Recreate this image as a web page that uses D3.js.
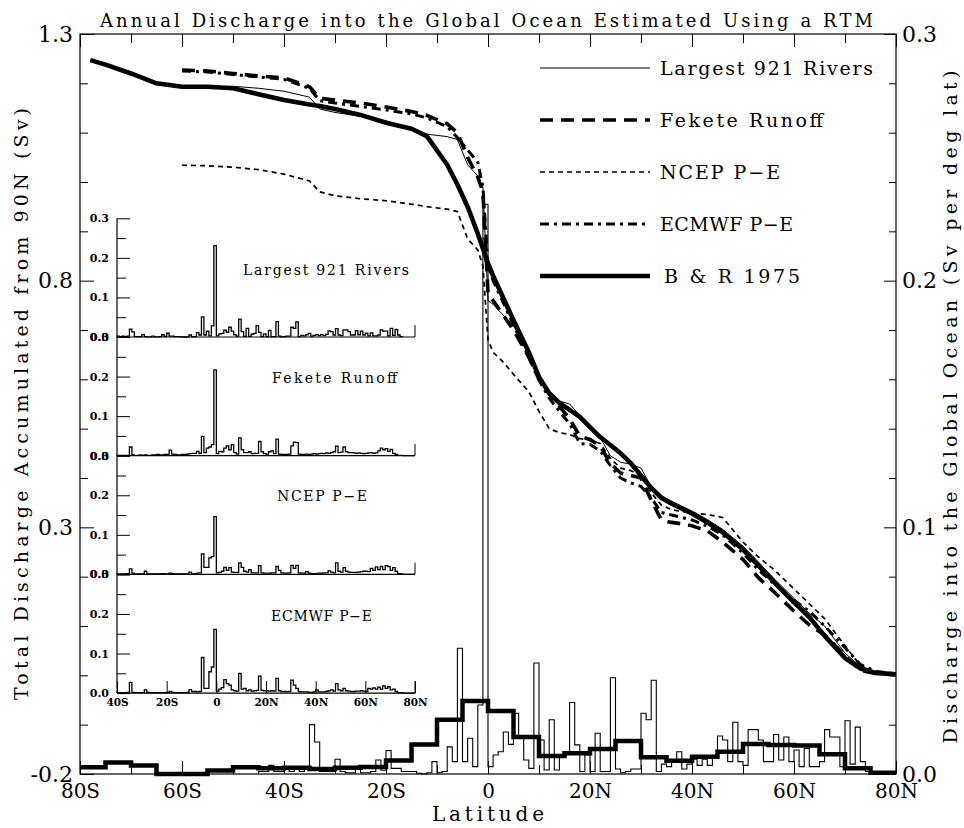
<!DOCTYPE html>
<html>
<head>
<meta charset="utf-8">
<script src="https://cdn.jsdelivr.net/npm/d3@7"></script>
<style>
  body { margin: 0; background: #fff; }
  svg { display: block; }
</style>
</head>
<body>
<svg id="chart" width="964" height="828"></svg>
<script>
// ---- accumulated discharge from 90N (Sv), left axis ----
const curveLats = [-78, -75, -70, -65, -60, -55, -50, -45, -40, -35, -33, -30, -25, -20, -15, -12,
  -8, -6, -4, -2, -1, 0, 1, 3, 5, 8, 10, 12, 14, 16, 18, 20, 22, 24, 26, 28, 30, 32, 34, 36, 38,
  40, 43, 46, 50, 53, 56, 60, 63, 66, 70, 73, 76, 80];

const br1975 = [1.247, 1.238, 1.22, 1.2, 1.193, 1.193, 1.19, 1.178, 1.166, 1.157, 1.154, 1.148,
  1.136, 1.12, 1.108, 1.093, 1.035, 0.995, 0.95, 0.895, 0.865, 0.835, 0.81, 0.765, 0.72, 0.655,
  0.605, 0.572, 0.552, 0.538, 0.524, 0.503, 0.483, 0.467, 0.45, 0.43, 0.405, 0.38, 0.36, 0.348,
  0.338, 0.328, 0.31, 0.29, 0.255, 0.223, 0.19, 0.148, 0.118, 0.08, 0.035, 0.014, 0.005, 0.002];

const rivers921 = [null, null, null, null, 1.193, 1.193, 1.194, 1.19, 1.184, 1.172, 1.148, 1.141,
  1.133, 1.124, 1.106, 1.097, 1.092, 1.086, 1.035, 1.012, 0.99, 0.76, 0.752, 0.73, 0.708, 0.655,
  0.61, 0.576, 0.556, 0.55, 0.527, 0.505, 0.482, 0.445, 0.432, 0.428, 0.42, 0.382, 0.364, 0.353,
  0.343, 0.333, 0.316, 0.296, 0.262, 0.23, 0.197, 0.156, 0.126, 0.1, 0.045, 0.018, 0.008, 0.004];

const feketeRunoff = [null, null, null, null, 1.227, 1.225, 1.22, 1.215, 1.211, 1.193, 1.17, 1.166,
  1.16, 1.152, 1.143, 1.135, 1.118, 1.1, 1.05, 1.01, 0.98, 0.775, 0.76, 0.73, 0.7, 0.645,
  0.6, 0.57, 0.545, 0.52, 0.485, 0.478, 0.465, 0.43, 0.41, 0.405, 0.4, 0.355, 0.315, 0.31,
  0.307, 0.303, 0.293, 0.27, 0.235, 0.198, 0.17, 0.13, 0.102, 0.082, 0.04, 0.01, 0.004, 0.002];

const ncepPE = [null, null, null, null, 1.034, 1.033, 1.03, 1.025, 1.016, 1.002, 0.98, 0.972,
  0.966, 0.962, 0.955, 0.95, 0.945, 0.94, 0.885, 0.862, 0.83, 0.68, 0.655, 0.635, 0.61, 0.575,
  0.535, 0.5, 0.492, 0.488, 0.48, 0.476, 0.47, 0.44, 0.42, 0.415, 0.405, 0.37, 0.345, 0.336,
  0.332, 0.329, 0.326, 0.32, 0.27, 0.24, 0.215, 0.175, 0.145, 0.115, 0.06, 0.02, 0.006, 0.003];

const ecmwfPE = [null, null, null, null, 1.225, 1.223, 1.218, 1.213, 1.208, 1.19, 1.165, 1.16,
  1.153, 1.146, 1.138, 1.13, 1.112, 1.09, 1.065, 1.04, 0.99, 0.83, 0.8, 0.755, 0.71, 0.645,
  0.598, 0.562, 0.535, 0.51, 0.47, 0.468, 0.455, 0.425, 0.4, 0.39, 0.383, 0.36, 0.33, 0.325,
  0.32, 0.315, 0.302, 0.285, 0.248, 0.214, 0.186, 0.152, 0.13, 0.1, 0.056, 0.022, 0.008, 0.003];

// ---- discharge per degree latitude (Sv per deg lat), 1 degree bins ----
const riversHistStart = -45;   // bins -45 .. 74
const riversPerDeg = [
  0.001, 0.001, 0.0035, 0.001, 0.001,
  0.002, 0.001, 0.002, 0.001, 0.002,
  0.02, 0.013, 0.001, 0.001, 0.001,
  0.006, 0.001, 0.0005, 0.0005, 0.002,
  0.0005, 0.0005, 0.001, 0.0057, 0.0015,
  0.0095, 0.0023, 0.0023, 0.001, 0.001,
  0.001, 0.0003, 0.0, 0.0005, 0.005,
  0.0005, 0.001, 0.011, 0.005, 0.051,
  0.005, 0.0145, 0.003, 0.028, 0.231,
  0.003, 0.0077, 0.009, 0.017, 0.012,
  0.0246, 0.015, 0.0057, 0.0023, 0.045,
  0.0138, 0.0016, 0.022, 0.0016, 0.007,
  0.009, 0.029, 0.0118, 0.001, 0.0077,
  0.001, 0.0165, 0.001, 0.001, 0.039,
  0.002, 0.0005, 0.001, 0.002, 0.002,
  0.0246, 0.022, 0.038, 0.001, 0.004,
  0.003, 0.0057, 0.009, 0.002, 0.004,
  0.006, 0.0035, 0.006, 0.0035, 0.0065,
  0.0154, 0.0138, 0.005, 0.021, 0.005,
  0.0035, 0.018, 0.018, 0.0138, 0.005,
  0.005, 0.016, 0.0057, 0.015, 0.005,
  0.0097, 0.003, 0.0104, 0.003, 0.003,
  0.005, 0.018, 0.015, 0.015, 0.003,
  0.0216, 0.004, 0.019, 0.005, 0.001
];

const insetStart = -40;        // bins -40 .. 79
const feketePerDeg = [
  0.001, 0.001, 0.001, 0.001, 0.001,
  0.022, 0.002, 0.001, 0.001, 0.002,
  0.001, 0.002, 0.001, 0.001, 0.002,
  0.002, 0.003, 0.002, 0.002, 0.003,
  0.003, 0.014, 0.004, 0.003, 0.002,
  0.002, 0.003, 0.003, 0.004, 0.005,
  0.006, 0.006, 0.011, 0.006, 0.049,
  0.008, 0.019, 0.022, 0.028, 0.217,
  0.005, 0.011, 0.01, 0.019, 0.025,
  0.015, 0.028, 0.008, 0.004, 0.045,
  0.015, 0.008, 0.008, 0.01, 0.005,
  0.006, 0.006, 0.036, 0.01, 0.005,
  0.004, 0.01, 0.012, 0.005, 0.042,
  0.004, 0.003, 0.003, 0.003, 0.004,
  0.025, 0.034, 0.033, 0.004, 0.003,
  0.003, 0.004, 0.003, 0.004, 0.005,
  0.004, 0.005, 0.006, 0.005, 0.007,
  0.006, 0.008, 0.01, 0.024, 0.008,
  0.009, 0.022, 0.01, 0.008, 0.008,
  0.007, 0.006, 0.007, 0.006, 0.005,
  0.006, 0.007, 0.008, 0.006, 0.007,
  0.012, 0.019, 0.015, 0.018, 0.011,
  0.016, 0.006, 0.003, 0.001, 0.001,
  0, 0, 0, 0, 0
];

const ncepPerDeg = [
  0.001, 0.001, 0.001, 0.001, 0.002,
  0.014, 0.003, 0.001, 0.001, 0.001,
  0.001, 0.008, 0.001, 0.001, 0.001,
  0.001, 0.001, 0.001, 0.002, 0.001,
  0.001, 0.003, 0.002, 0.001, 0.001,
  0.001, 0.001, 0.001, 0.001, 0.006,
  0.001, 0.002, 0.003, 0.004, 0.052,
  0.018, 0.018, 0.042, 0.045, 0.146,
  0.004, 0.005, 0.008, 0.018, 0.01,
  0.017, 0.006, 0.005, 0.005, 0.029,
  0.018, 0.008, 0.006, 0.012, 0.004,
  0.004, 0.004, 0.022, 0.004, 0.003,
  0.003, 0.003, 0.004, 0.004, 0.02,
  0.01, 0.004, 0.003, 0.003, 0.004,
  0.023, 0.015, 0.023, 0.004, 0.003,
  0.003, 0.007, 0.003, 0.002, 0.002,
  0.002, 0.003, 0.003, 0.004, 0.004,
  0.009, 0.006, 0.004, 0.029, 0.008,
  0.006, 0.017, 0.008, 0.006, 0.005,
  0.005, 0.005, 0.006, 0.007, 0.008,
  0.008, 0.007, 0.015, 0.01, 0.019,
  0.012, 0.02, 0.012, 0.022, 0.02,
  0.01, 0.017, 0.008, 0.002, 0.001,
  0, 0, 0, 0, 0
];

const ecmwfPerDeg = [
  0.001, 0.001, 0.001, 0.001, 0.002,
  0.027, 0.002, 0.001, 0.001, 0.001,
  0.001, 0.008, 0.002, 0.001, 0.001,
  0.001, 0.001, 0.001, 0.001, 0.001,
  0.002, 0.004, 0.002, 0.001, 0.001,
  0.001, 0.001, 0.001, 0.002, 0.009,
  0.004, 0.004, 0.003, 0.004, 0.09,
  0.012, 0.012, 0.054, 0.066, 0.161,
  0.005, 0.01, 0.014, 0.034, 0.024,
  0.02, 0.008, 0.006, 0.005, 0.05,
  0.01, 0.012, 0.006, 0.008, 0.005,
  0.006, 0.007, 0.043, 0.007, 0.006,
  0.006, 0.005, 0.006, 0.005, 0.037,
  0.006, 0.004, 0.004, 0.003, 0.004,
  0.033, 0.02, 0.012, 0.004, 0.003,
  0.003, 0.003, 0.002, 0.002, 0.003,
  0.008, 0.003, 0.003, 0.003, 0.004,
  0.006, 0.008, 0.005, 0.024, 0.008,
  0.006, 0.012, 0.006, 0.005, 0.004,
  0.004, 0.005, 0.005, 0.006, 0.005,
  0.004, 0.012, 0.01, 0.013, 0.01,
  0.015, 0.01, 0.018, 0.012, 0.016,
  0.008, 0.01, 0.004, 0.001, 0.001,
  0, 0, 0, 0, 0
];

// B & R 1975, 5 degree bins (Sv per deg lat)
const brBinLats = [-80, -75, -70, -65, -60, -55, -50, -45, -40, -35, -30, -25, -20, -15, -10, -5,
  0, 5, 10, 15, 20, 25, 30, 35, 40, 45, 50, 55, 60, 65, 70, 75];
const brPerDeg = [0.0027, 0.0047, 0.0034, 0.0, 0.0, 0.0014, 0.0027, 0.0023, 0.0025, 0.002, 0.0025,
  0.0028, 0.0055, 0.012, 0.022, 0.0296, 0.0255, 0.015, 0.0073, 0.0084, 0.0101, 0.0134, 0.0068,
  0.0054, 0.007, 0.009, 0.0122, 0.0118, 0.0116, 0.008, 0.0023, 0.0005];

// ticks
const xMajor = [-80, -60, -40, -20, 0, 20, 40, 60, 80];
const xMinor = [-70, -50, -30, -10, 10, 30, 50, 70];
const xTickLabels = ["80S", "60S", "40S", "20S", "0", "20N", "40N", "60N", "80N"];
const leftMajor = [1.3, 0.8, 0.3, -0.2];
const leftMinor = [1.2, 1.1, 1.0, 0.9, 0.7, 0.6, 0.5, 0.4, 0.2, 0.1, 0.0, -0.1];
const rightMajor = [0.0, 0.1, 0.2, 0.3];
const rightMinor = [0.02, 0.04, 0.06, 0.08, 0.12, 0.14, 0.16, 0.18, 0.22, 0.24, 0.26, 0.28];
const insetMajor = [0.0, 0.1, 0.2, 0.3];
const insetMinor = [0.05, 0.15, 0.25];
const insetXTicks = [-40, -20, 0, 20, 40, 60, 80];
const insetXLabels = ["40S", "20S", "0", "20N", "40N", "60N", "80N"];

const serif = "DejaVu Serif";

const svg = d3.select("#chart");

const x = d3.scaleLinear().domain([-80, 80]).range([80, 896]);
const yLeft = d3.scaleLinear().domain([-0.2, 1.3]).range([774, 34]);
const yRight = d3.scaleLinear().domain([0, 0.3]).range([774, 34]);

// helper: step outline of a histogram
function steps(starts, width, vals, closeEnds) {
  const pts = [];
  if (closeEnds) pts.push([starts[0], 0]);
  vals.forEach((v, i) => {
    pts.push([starts[i], v], [starts[i] + width, v]);
  });
  if (closeEnds) pts.push([starts[vals.length - 1] + width, 0]);
  return pts;
}
function binStarts(start, n) {
  return d3.range(n).map(i => start + i);
}

// ---- histograms in main plot ----
const histLine = d3.line().x(d => x(d[0])).y(d => yRight(d[1]));

svg.append("path")
  .attr("d", histLine(steps(binStarts(riversHistStart, riversPerDeg.length), 1, riversPerDeg, true)))
  .attr("fill", "none")
  .attr("stroke", "#000")
  .attr("stroke-width", 1.1);

svg.append("path")
  .attr("d", histLine(steps(brBinLats, 5, brPerDeg, false)))
  .attr("fill", "none")
  .attr("stroke", "#000")
  .attr("stroke-width", 4.5);

// ---- accumulated curves ----
const series = [
  { name: "Largest 921 Rivers", values: rivers921, width: 1, dash: null, textLen: 213 },
  { name: "Fekete Runoff", values: feketeRunoff, width: 3.6, dash: "13,8", textLen: 163 },
  { name: "NCEP P\u2212E", values: ncepPE, width: 1.7, dash: "5,4", textLen: 120 },
  { name: "ECMWF P\u2212E", values: ecmwfPE, width: 3, dash: "9,5,3,5", textLen: 133 },
  { name: "B & R 1975", values: br1975, width: 4.6, dash: null, textLen: 136 },
];

const curve = d3.line()
  .defined(d => d[1] != null)
  .x(d => x(d[0]))
  .y(d => yLeft(d[1]));

// thick curve first, thin rivers on top
[4, 1, 3, 2, 0].forEach(k => {
  const s = series[k];
  svg.append("path")
    .attr("d", curve(curveLats.map((lat, i) => [lat, s.values[i]])))
    .attr("fill", "none")
    .attr("stroke", "#000")
    .attr("stroke-width", s.width)
    .attr("stroke-linejoin", "round")
    .attr("stroke-dasharray", s.dash);
});

// ---- frame and axes ----
svg.append("rect")
  .attr("x", 80).attr("y", 34)
  .attr("width", 816).attr("height", 740)
  .attr("fill", "none").attr("stroke", "#000").attr("stroke-width", 1.2);

function tickGroup(axis, tx, ty, fontSize) {
  const g = svg.append("g").attr("transform", `translate(${tx},${ty})`).call(axis);
  g.select(".domain").remove();
  g.attr("font-family", serif).attr("font-size", fontSize);
  return g;
}
const fmt = d => d3.format(".1f")(d).replace("\u2212", "-");

tickGroup(d3.axisBottom(x).tickValues(xMajor).tickSize(-13).tickPadding(10)
  .tickFormat((d, i) => xTickLabels[i]), 0, 774, 20);
tickGroup(d3.axisBottom(x).tickValues(xMinor).tickSize(-9).tickFormat(""), 0, 774, 10);
tickGroup(d3.axisTop(x).tickValues(xMajor).tickSize(-13).tickFormat(""), 0, 34, 10);
tickGroup(d3.axisTop(x).tickValues(xMinor).tickSize(-9).tickFormat(""), 0, 34, 10);

tickGroup(d3.axisLeft(yLeft).tickValues(leftMajor).tickSize(-14).tickPadding(7).tickFormat(fmt), 80, 0, 22);
tickGroup(d3.axisLeft(yLeft).tickValues(leftMinor).tickSize(-8).tickFormat(""), 80, 0, 10);
tickGroup(d3.axisRight(yRight).tickValues(rightMajor).tickSize(-12).tickPadding(6).tickFormat(fmt), 896, 0, 22);
tickGroup(d3.axisRight(yRight).tickValues(rightMinor).tickSize(-7).tickFormat(""), 896, 0, 10);

// titles
svg.append("text")
  .attr("x", 100).attr("y", 27)
  .attr("font-family", serif).attr("font-size", 18)
  .attr("textLength", 773).attr("lengthAdjust", "spacing")
  .text("Annual Discharge into the Global Ocean Estimated Using a RTM");

svg.append("text")
  .attr("x", 488).attr("y", 821)
  .attr("text-anchor", "middle")
  .attr("font-family", serif).attr("font-size", 20)
  .attr("textLength", 112).attr("lengthAdjust", "spacing")
  .text("Latitude");

svg.append("text")
  .attr("transform", "translate(28,404) rotate(-90)")
  .attr("text-anchor", "middle")
  .attr("font-family", serif).attr("font-size", 19)
  .attr("textLength", 592).attr("lengthAdjust", "spacing")
  .text("Total Discharge Accumulated from 90N (Sv)");

svg.append("text")
  .attr("transform", "translate(957,407) rotate(-90)")
  .attr("text-anchor", "middle")
  .attr("font-family", serif).attr("font-size", 19)
  .attr("textLength", 673).attr("lengthAdjust", "spacing")
  .text("Discharge into the Global Ocean (Sv per deg lat)");

// ---- legend ----
const legend = svg.append("g").attr("class", "legend");
series.forEach((s, i) => {
  const ly = 68 + i * 52;
  legend.append("line")
    .attr("x1", 540).attr("x2", 650)
    .attr("y1", ly).attr("y2", ly)
    .attr("stroke", "#000")
    .attr("stroke-width", s.width)
    .attr("stroke-dasharray", s.dash);
  legend.append("text")
    .attr("x", i === 4 ? 664 : 660).attr("y", ly + 7)
    .attr("font-family", serif).attr("font-size", 19)
    .attr("textLength", s.textLen).attr("lengthAdjust", "spacing")
    .text(s.name);
});

// ---- inset: per-degree discharge, 40S-80N ----
const ix = d3.scaleLinear().domain([-40, 80]).range([117, 415]);
const panelH = 118.7;
const insetPanels = [
  { name: "Largest 921 Rivers", start: -40, values: riversPerDeg.slice(-40 - riversHistStart) },
  { name: "Fekete Runoff", start: insetStart, values: feketePerDeg },
  { name: "NCEP P\u2212E", start: insetStart, values: ncepPerDeg },
  { name: "ECMWF P\u2212E", start: insetStart, values: ecmwfPerDeg },
];
const insetLabelPos = [
  { x: 243, dy: -62, len: 166 },
  { x: 272, dy: -73, len: 125 },
  { x: 277, dy: -73, len: 90 },
  { x: 271, dy: -72, len: 101 },
];

const inset = svg.append("g").attr("class", "inset");
const base0 = 337;

inset.append("line")
  .attr("x1", ix(-40)).attr("x2", ix(-40))
  .attr("y1", base0 - panelH).attr("y2", base0 + 3 * panelH)
  .attr("stroke", "#000").attr("stroke-width", 1.2);

insetPanels.forEach((p, k) => {
  const base = base0 + k * panelH;
  const iy = d3.scaleLinear().domain([0, 0.3]).range([base, base - panelH]);

  // baseline
  inset.append("line")
    .attr("x1", ix(-40)).attr("x2", ix(80))
    .attr("y1", base).attr("y2", base)
    .attr("stroke", "#000").attr("stroke-width", 1.2);
  // right stub
  inset.append("line")
    .attr("x1", ix(80)).attr("x2", ix(80))
    .attr("y1", base).attr("y2", iy(0.03))
    .attr("stroke", "#000").attr("stroke-width", 1);

  const g1 = inset.append("g").attr("transform", `translate(${ix(-40)},0)`)
    .call(d3.axisLeft(iy).tickValues(insetMajor).tickSize(-13).tickPadding(8).tickFormat(d3.format(".1f")));
  g1.select(".domain").remove();
  g1.attr("font-family", serif).attr("font-size", 11).attr("font-weight", "bold");
  const g2 = inset.append("g").attr("transform", `translate(${ix(-40)},0)`)
    .call(d3.axisLeft(iy).tickValues(insetMinor).tickSize(-9).tickFormat(""));
  g2.select(".domain").remove();

  const hl = d3.line().x(d => ix(d[0])).y(d => iy(d[1]));
  inset.append("path")
    .attr("d", hl(steps(binStarts(p.start, p.values.length), 1, p.values, true)))
    .attr("fill", "none")
    .attr("stroke", "#000")
    .attr("stroke-width", 1.3);

  const lp = insetLabelPos[k];
  inset.append("text")
    .attr("x", lp.x).attr("y", base + lp.dy)
    .attr("font-family", serif).attr("font-size", 14)
    .attr("textLength", lp.len).attr("lengthAdjust", "spacing")
    .text(p.name);

  if (k === insetPanels.length - 1) {
    const gx = inset.append("g").attr("transform", `translate(0,${base})`)
      .call(d3.axisBottom(ix).tickValues(insetXTicks).tickSize(-12).tickPadding(5)
        .tickFormat((d, i) => insetXLabels[i]));
    gx.select(".domain").remove();
    gx.attr("font-family", serif).attr("font-size", 10.5).attr("font-weight", "bold");
  }
});
</script>
</body>
</html>
